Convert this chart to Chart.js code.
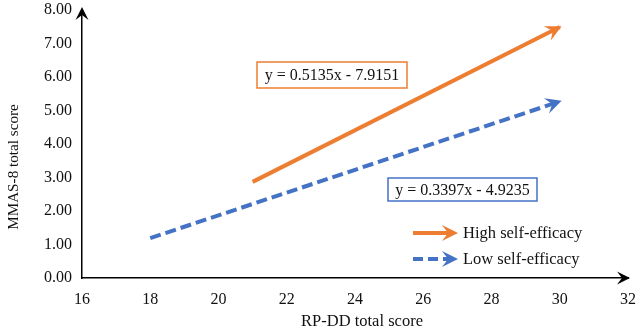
<!DOCTYPE html>
<html>
<head>
<meta charset="UTF-8">
<title>MMAS-8 vs RP-DD</title>
<script src="https://cdn.jsdelivr.net/npm/chart.js"></script>
<style>
  html, body { margin: 0; padding: 0; background: #fff; }
</style>
</head>
<body>
<canvas id="chart" width="640" height="330"></canvas>
<script>
// data (end points of the two fitted lines)
const seriesNames = ['High self-efficacy', 'Low self-efficacy'];
const highX = [21, 30];
const highY = [2.87, 7.49];
const lowX = [18, 30];
const lowY = [1.19, 5.27];
const equations = ['y = 0.5135x - 7.9151', 'y = 0.3397x - 4.9235'];
const xTitle = 'RP-DD total score';
const yTitle = 'MMAS-8 total score';
const xMin = 16, xMax = 32, xStep = 2;
const yMin = 0, yMax = 8, yStep = 1;

const orange = '#ED7D31';
const blue = '#4472C4';
const serif = '"Liberation Serif", "Times New Roman", serif';

function toPoints(xs, ys) {
    return xs.map((v, i) => ({x: v, y: ys[i]}));
}

// barbed arrow head, tip at (tx, ty)
function arrowHead(ctx, tx, ty, ang, len, half, color) {
    ctx.save();
    ctx.translate(tx, ty);
    ctx.rotate(ang);
    ctx.beginPath();
    ctx.moveTo(0, 0);
    ctx.lineTo(-len, -half);
    ctx.lineTo(-len * 0.62, 0);
    ctx.lineTo(-len, half);
    ctx.closePath();
    ctx.fillStyle = color;
    ctx.fill();
    ctx.restore();
}

function eqBox(ctx, text, left, top, w, h, color) {
    ctx.save();
    ctx.fillStyle = '#fff';
    ctx.fillRect(left, top, w, h);
    ctx.strokeStyle = color;
    ctx.lineWidth = 1.5;
    ctx.strokeRect(left, top, w, h);
    ctx.fillStyle = '#111';
    ctx.font = '16px ' + serif;
    ctx.textAlign = 'center';
    ctx.textBaseline = 'middle';
    ctx.fillText(text, left + w / 2, top + h / 2 + 1);
    ctx.restore();
}

const decor = {
    id: 'decor',
    afterDatasetsDraw(chart) {
        const ctx = chart.ctx;
        const a = chart.chartArea;
        const xs = chart.scales.x, ys = chart.scales.y;

        // arrow heads at the end of each line
        chart.data.datasets.forEach(ds => {
            const n = ds.data.length;
            const x0 = xs.getPixelForValue(ds.data[n - 2].x), y0 = ys.getPixelForValue(ds.data[n - 2].y);
            const x1 = xs.getPixelForValue(ds.data[n - 1].x), y1 = ys.getPixelForValue(ds.data[n - 1].y);
            const ang = Math.atan2(y1 - y0, x1 - x0);
            arrowHead(ctx, x1 + 2 * Math.cos(ang), y1 + 2 * Math.sin(ang), ang, 16, 8, ds.borderColor);
        });

        // axis arrows
        arrowHead(ctx, a.left, a.top - 3, -Math.PI / 2, 13, 6.5, '#000');
        arrowHead(ctx, a.right + 2, a.bottom, 0, 13, 6.5, '#000');

        // equation boxes
        eqBox(ctx, equations[0], 257, 62, 150, 26, orange);
        eqBox(ctx, equations[1], 388, 178, 149, 23, blue);

        // legend
        ctx.save();
        ctx.lineWidth = 4;
        ctx.strokeStyle = orange;
        ctx.beginPath();
        ctx.moveTo(413, 233);
        ctx.lineTo(450, 233);
        ctx.stroke();
        arrowHead(ctx, 458, 233, 0, 16, 8, orange);
        ctx.strokeStyle = blue;
        ctx.setLineDash([10, 5]);
        ctx.beginPath();
        ctx.moveTo(413, 259);
        ctx.lineTo(450, 259);
        ctx.stroke();
        ctx.setLineDash([]);
        arrowHead(ctx, 458, 259, 0, 16, 8, blue);
        ctx.fillStyle = '#111';
        ctx.font = '16.5px ' + serif;
        ctx.textBaseline = 'middle';
        ctx.textAlign = 'left';
        ctx.fillText(seriesNames[0], 463, 234);
        ctx.fillText(seriesNames[1], 463, 260);

        // axis titles
        ctx.textAlign = 'center';
        ctx.fillText(xTitle, 362, 322);
        ctx.font = '15.2px ' + serif;
        ctx.translate(14, 167);
        ctx.rotate(-Math.PI / 2);
        ctx.fillText(yTitle, 0, 0);
        ctx.restore();
    }
};

new Chart(document.getElementById('chart'), {
    type: 'scatter',
    data: {
        datasets: [{
            label: seriesNames[0],
            data: toPoints(highX, highY),
            showLine: true,
            borderColor: orange,
            backgroundColor: orange,
            borderWidth: 4,
            pointRadius: 0
        }, {
            label: seriesNames[1],
            data: toPoints(lowX, lowY),
            showLine: true,
            borderColor: blue,
            backgroundColor: blue,
            borderWidth: 4,
            borderDash: [11, 5],
            pointRadius: 0
        }]
    },
    options: {
        responsive: false,
        animation: false,
        events: [],
        layout: {padding: {top: 10, right: 12, left: 0, bottom: 0}},
        plugins: {
            legend: {display: false},
            tooltip: {enabled: false}
        },
        scales: {
            x: {
                type: 'linear',
                min: xMin, max: xMax,
                grid: {display: false, drawTicks: false},
                border: {display: true, color: '#000', width: 1.5},
                ticks: {
                    stepSize: xStep,
                    padding: 12,
                    color: '#111',
                    font: {family: serif, size: 16}
                },
                afterFit(scale) {
                    scale.height = 52;
                    scale.paddingLeft = 0;
                    scale.paddingRight = 0;
                }
            },
            y: {
                type: 'linear',
                min: yMin, max: yMax,
                grid: {display: false, drawTicks: false},
                border: {display: true, color: '#000', width: 1.5},
                ticks: {
                    stepSize: yStep,
                    padding: 10,
                    color: '#111',
                    font: {family: serif, size: 16},
                    callback: v => v.toFixed(2)
                },
                afterFit(scale) {
                    scale.width = 82;
                    scale.paddingTop = 0;
                    scale.paddingBottom = 0;
                }
            }
        }
    },
    plugins: [decor]
});
</script>
</body>
</html>
